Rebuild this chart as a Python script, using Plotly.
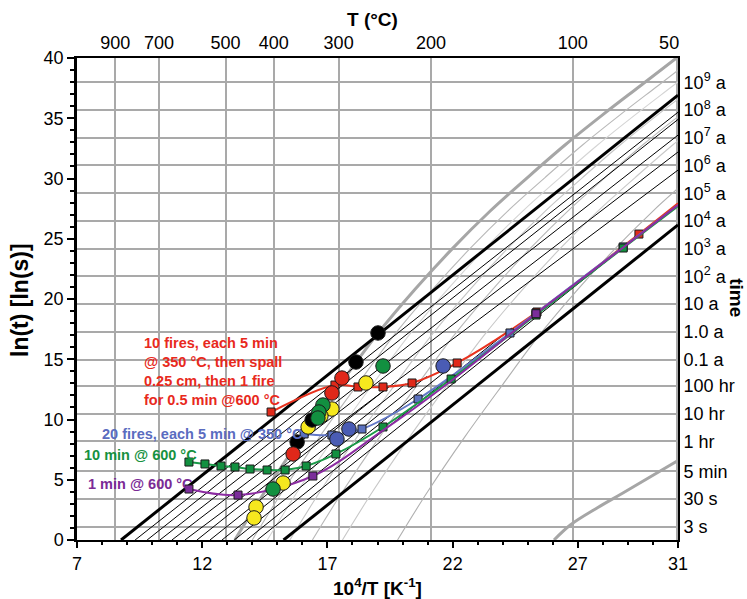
import numpy as np
import plotly.graph_objects as go

# ---------------- axis tick data ----------------
YEAR_S = 3.15576e7
temp_C = [900, 700, 500, 400, 300, 200, 100, 50]
time_labels = ["3 s", "30 s", "5 min", "1 hr", "10 hr", "100 hr", "0.1 a", "1.0 a", "10 a",
               "10<sup>2</sup> a", "10<sup>3</sup> a", "10<sup>4</sup> a", "10<sup>5</sup> a",
               "10<sup>6</sup> a", "10<sup>7</sup> a", "10<sup>8</sup> a", "10<sup>9</sup> a"]
time_seconds = [3, 30, 300, 3600, 36000, 360000] + [YEAR_S * 10.0 ** k for k in range(-1, 10)]
x_ticks = [7, 12, 17, 22, 27, 31]
y_ticks = [0, 5, 10, 15, 20, 25, 30, 35, 40]

# ---------------- data series (10^4/T, ln t) ----------------
red_x = [14.75, 17.30, 18.22, 19.22, 20.38, 22.18, 25.37, 29.44]
red_y = [10.62, 12.86, 12.70, 12.70, 13.03, 14.69, 18.92, 25.39]
red_end = (31.0, 27.95)

blue_x = [16.07, 17.18, 18.38, 20.62, 24.29, 25.33, 28.81]
blue_y = [8.80, 8.71, 9.21, 11.70, 17.18, 18.84, 24.32]
blue_end = (31.0, 27.8)

green_x = [11.47, 12.11, 12.75, 13.31, 13.91, 14.59, 15.31, 16.15, 17.34, 19.22, 21.94, 25.33, 28.81]
green_y = [6.47, 6.31, 6.14, 6.06, 5.89, 5.81, 5.81, 6.14, 7.14, 9.38, 13.36, 18.67, 24.23]
green_end = (31.0, 27.7)

purple_x = [11.47, 13.43, 16.42, 19.22, 21.94, 25.33, 28.81]
purple_y = [4.23, 3.73, 5.31, 9.10, 13.20, 18.78, 24.28]
purple_marked = [True, True, True, False, False, True, False]
purple_end = (31.0, 27.8)

# large circles
yellow_cx = [18.54, 17.18, 16.74, 16.23, 15.23, 14.15, 14.07]
yellow_cy = [13.03, 10.87, 10.29, 9.38, 4.73, 2.74, 1.83]
black_cx = [19.02, 18.14, 16.39, 15.79]
black_cy = [17.18, 14.77, 9.96, 8.13]
red_cx = [17.58, 17.18, 15.63]
red_cy = [13.44, 12.20, 7.14]
green_cx = [19.22, 16.82, 16.66, 16.62, 14.83]
green_cy = [14.44, 11.20, 10.62, 10.12, 4.23]
blue_cx = [21.62, 17.86, 17.38]
blue_cy = [14.44, 9.21, 8.38]

# ---------------- reference lines ----------------
ARRH_SLOPE = 1.66
thick_black_x0 = [8.76, 15.25]
# thin lines that run to the right border: (start at ln t = 0, value at right border)
full_black_x0 = [9.32, 9.80, 10.31, 10.79, 11.31]
full_black_yend = [35.5, 34.9, 33.6, 32.2, 30.7]
# thin lines that stop on the red curve
part_black_x0 = [11.79, 12.31, 12.79, 13.28, 13.77, 14.20]
gray_x = [13.3, 14.5, 16.0, 17.5, 19.0, 20.5, 22.0, 23.5, 25.0, 26.5, 28.0, 29.5, 31.0]
gray_y = [0.0, 4.0, 8.6, 12.9, 17.1, 20.8, 24.2, 27.3, 30.1, 32.8, 35.3, 37.7, 40.1]
gray_shifts = [0.7, 1.3, 2.2, 3.1, 4.3, 6.5]
gray_shift_colors = ["#b8b8b8", "#d4d4d4", "#c4c4c4", "#b8b8b8", "#c8c8c8", "#b0b0b0"]
gray2_x = [26.05, 26.7, 27.8, 28.8, 31.0]
gray2_y = [0.0, 1.25, 2.7, 3.9, 6.6]

XMIN, XMAX, YMIN, YMAX = 7, 31, 0, 40
FONT = "Liberation Sans, Arial, sans-serif"

fig = go.Figure()


def add_line(xs, ys, color, width, shape="linear"):
    fig.add_trace(go.Scatter(x=xs, y=ys, mode="lines",
                             line=dict(color=color, width=width, shape=shape),
                             hoverinfo="skip", showlegend=False))


# thin gray curves (shifted copies of the master curve)
for d, c in zip(gray_shifts, gray_shift_colors):
    add_line([gx + d for gx in gray_x], gray_y, c, 1.1, "spline")

# thick gray curves
add_line(gray_x, gray_y, "#a6a6a6", 3, "spline")
add_line(gray2_x, gray2_y, "#a6a6a6", 3, "spline")

# thin black lines
for x0, ye in zip(full_black_x0, full_black_yend):
    add_line([x0, XMAX], [0, ye], "black", 1)

rx = np.array(red_x + [red_end[0]])
ry = np.array(red_y + [red_end[1]])
xx = np.linspace(rx[0], rx[-1], 3000)
for x0 in part_black_x0:
    diff = ARRH_SLOPE * (xx - x0) - np.interp(xx, rx, ry)
    idx = np.where(diff >= 0)[0]
    x_end = xx[idx[0]] if len(idx) else XMAX
    add_line([x0, x_end], [0, ARRH_SLOPE * (x_end - x0)], "black", 1)

# thick black lines
for x0 in thick_black_x0:
    x_end = min(XMAX, x0 + YMAX / ARRH_SLOPE)
    add_line([x0, x_end], [0, ARRH_SLOPE * (x_end - x0)], "black", 3)


def add_series(xs, ys, end, line_color, fill, marked=None):
    fig.add_trace(go.Scatter(x=xs + [end[0]], y=ys + [end[1]], mode="lines",
                             line=dict(color=line_color, width=2, shape="spline", smoothing=1.0),
                             hoverinfo="skip", showlegend=False))
    if marked is None:
        marked = [True] * len(xs)
    mx = [x for x, m in zip(xs, marked) if m]
    my = [y for y, m in zip(ys, marked) if m]
    fig.add_trace(go.Scatter(x=mx, y=my, mode="markers",
                             marker=dict(symbol="square", size=8, color=fill,
                                         line=dict(color="#1a1a1a", width=1)),
                             hoverinfo="skip", showlegend=False))


add_series(red_x, red_y, red_end, "#e8321e", "#e02a1a")
add_series(blue_x, blue_y, blue_end, "#6378c6", "#5b72c0")
add_series(green_x, green_y, green_end, "#1a9a48", "#129040")
add_series(purple_x, purple_y, purple_end, "#8c2ca2", "#7b2d9b", purple_marked)


def add_circles(xs, ys, color):
    fig.add_trace(go.Scatter(x=xs, y=ys, mode="markers",
                             marker=dict(symbol="circle", size=14.5, color=color,
                                         line=dict(color="#1a1a1a", width=1)),
                             hoverinfo="skip", showlegend=False))


add_circles(yellow_cx, yellow_cy, "#f6e81e")
add_circles(black_cx, black_cy, "#000000")
add_circles(red_cx, red_cy, "#e0281a")
add_circles(green_cx, green_cy, "#129040")
add_circles(blue_cx, blue_cy, "#4a5cb4")

# dummy trace for overlay axes
fig.add_trace(go.Scatter(x=[XMIN], y=[YMIN], xaxis="x2", yaxis="y2", mode="markers",
                         marker=dict(opacity=0), hoverinfo="skip", showlegend=False))

temp_pos = [1e4 / (t + 273.15) for t in temp_C]
temp_text = [str(t) for t in temp_C]
temp_text[-1] = temp_text[-1] + "\u00a0\u00a0\u00a0"
time_pos = list(np.log(time_seconds))

tick_font = dict(family=FONT, size=18, color="black")
grid_col = "#a9a9a9"

fig.update_layout(
    width=747, height=599,
    margin=dict(l=77, r=69, t=58, b=59),
    paper_bgcolor="white", plot_bgcolor="white",
    showlegend=False,
    xaxis=dict(range=[XMIN, XMAX], side="top", tickmode="array", tickvals=temp_pos,
               ticktext=temp_text, showgrid=True, gridcolor=grid_col,
               gridwidth=1.5, zeroline=False, showline=True, linecolor="black",
               linewidth=2, ticks="", tickfont=tick_font),
    yaxis=dict(range=[YMIN, YMAX], side="right", tickmode="array", tickvals=time_pos,
               ticktext=time_labels, showgrid=True, gridcolor=grid_col, gridwidth=1.5,
               zeroline=False, showline=True, linecolor="black", linewidth=2, ticks="",
               tickfont=tick_font),
    xaxis2=dict(range=[XMIN, XMAX], overlaying="x", side="bottom", tickmode="array",
                tickvals=x_ticks, ticktext=[str(v) for v in x_ticks], showgrid=False,
                zeroline=False, showline=True, linecolor="black", linewidth=2,
                ticks="outside", ticklen=6, tickwidth=1.5, tickcolor="black",
                minor=dict(tickmode="linear", tick0=7, dtick=1, ticks="outside",
                           ticklen=3, tickcolor="black", showgrid=False),
                tickfont=tick_font),
    yaxis2=dict(range=[YMIN, YMAX], overlaying="y", side="left", tickmode="array",
                tickvals=y_ticks, ticktext=[str(v) for v in y_ticks], showgrid=False,
                zeroline=False, showline=True, linecolor="black", linewidth=2.5,
                ticks="outside", ticklen=7, tickwidth=1.5, tickcolor="black",
                minor=dict(tickmode="linear", tick0=0, dtick=1, ticks="outside",
                           ticklen=4, tickcolor="black", showgrid=False),
                tickfont=tick_font),
)

title_font = dict(family=FONT, size=19, color="black")
ann_size = 14.5
annotations = [
    dict(text="<b>T (°C)</b>", xref="paper", yref="paper", x=0.4925, y=1.079,
         showarrow=False, font=title_font, xanchor="center", yanchor="middle"),
    dict(text="<b>10<sup>4</sup>/T [K<sup>-1</sup>]</b>", xref="paper", yref="paper",
         x=0.5008, y=-0.0975, showarrow=False, font=title_font, xanchor="center",
         yanchor="middle"),
    dict(text="<b>ln(t) [ln(s)]</b>", xref="paper", yref="paper", x=-0.0948, y=0.498,
         showarrow=False, font=dict(family=FONT, size=23, color="black"), textangle=-90,
         xanchor="center", yanchor="middle"),
    dict(text="<b>time</b>", xref="paper", yref="paper", x=1.098, y=0.502,
         showarrow=False, font=title_font, textangle=90, xanchor="center",
         yanchor="middle"),
    dict(text="<b>10 fires, each 5 min<br>@ 350 °C, then spall<br>0.25 cm, then 1 fire<br>for 0.5 min @600 °C</b>",
         xref="x", yref="y", x=9.6, y=14.0, showarrow=False, align="left",
         xanchor="left", yanchor="middle",
         font=dict(family=FONT, size=ann_size, color="#e8291c")),
    dict(text="<b>20 fires, each 5 min @ 350 °C</b>", xref="x", yref="y", x=12.03, y=8.8,
         showarrow=False, xanchor="center", yanchor="middle",
         font=dict(family=FONT, size=ann_size, color="#5a6cc0")),
    dict(text="<b>10 min @ 600 °C</b>", xref="x", yref="y", x=7.2, y=7.05,
         showarrow=False, xanchor="left", yanchor="middle",
         font=dict(family=FONT, size=ann_size, color="#17913f")),
    dict(text="<b>1 min @ 600 °C</b>", xref="x", yref="y", x=7.36, y=4.65,
         showarrow=False, xanchor="left", yanchor="middle",
         font=dict(family=FONT, size=ann_size, color="#7b2a96")),
]
fig.update_layout(annotations=annotations)

fig.write_html("out.html")
